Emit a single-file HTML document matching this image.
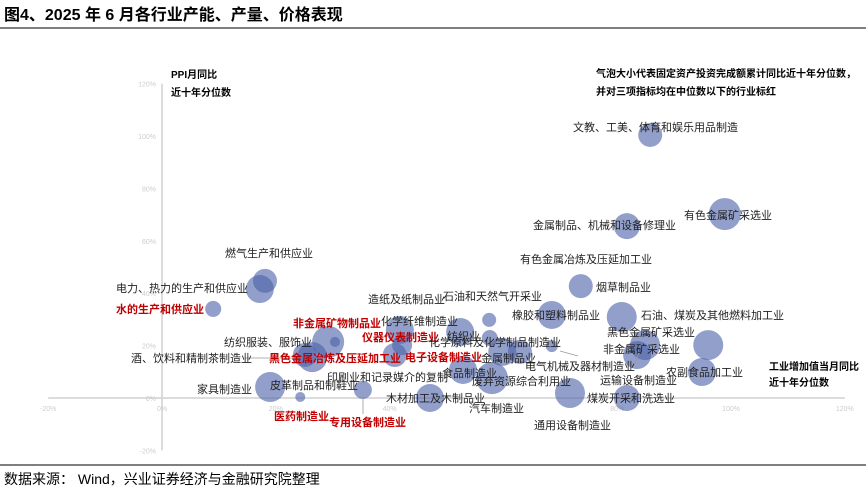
<!DOCTYPE html>
<html><head><meta charset="utf-8"><style>
body{margin:0;background:#fff;width:866px;height:488px;overflow:hidden;font-family:"Liberation Sans","Noto Sans CJK SC",sans-serif}
svg{position:absolute;left:0;top:0}
text{font-family:"Liberation Sans","Noto Sans CJK SC",sans-serif}
</style></head><body>
<svg width="866" height="488">
<text x="4" y="20" font-size="16" font-weight="bold" fill="#000">图4、2025 年 6 月各行业产能、产量、价格表现</text>
<line x1="0" y1="28" x2="866" y2="28" stroke="#333" stroke-width="1.2"/>
<line x1="0" y1="465" x2="866" y2="465" stroke="#333" stroke-width="1.2"/>
<text x="4" y="484" font-size="14" fill="#000">数据来源：  Wind，兴业证券经济与金融研究院整理</text>
<g id="axes"></g>
<g id="bubbles"></g>
<g id="labels" font-size="11" fill="#222"></g>
</svg>
<script>
const names=["文教","有色矿","金属机械","燃气","电力","水","烟草","橡胶","石油加工","油气开采","化纤","非金属矿物","非金属矿物2","纺织","纺织服装","黑色冶炼","电子","仪器","化学原料2","化学原料","金属制品","电气机械","黑色矿","非金属矿采","农副","农副2","食品","废弃","皮革","医药","印刷","木材","煤炭开采","运输"];
const xVals=[85.8,98.9,81.7,18.1,17.2,9.0,73.6,68.5,80.8,57.5,41.8,29.2,30.4,52.4,25.1,26.4,40.9,42.2,57.6,59.8,62.9,68.5,84.9,83.5,96.0,94.9,52.9,58.0,19.0,24.3,35.3,47.1,71.7,81.7];
const yVals=[100.4,70.2,65.6,44.7,41.6,34.0,42.7,31.7,30.9,29.8,26.0,21.4,21.4,25.2,16.4,15.6,16.4,20.2,22.9,17.6,17.6,19.8,20.2,16.4,20.2,9.9,10.7,7.6,4.2,0.4,3.1,0,1.9,0];
const sizes=[12,16,13,12,14,8,12,14,15,7,14,16,5,14,12,15,12,10,8,14,12,6,15,14,15,14,14,16,15,5,9,14,15,13];
const xTicks=[-20,0,20,40,60,80,100,120];
const yTicks=[-20,0,20,40,60,80,100,120];
const NS="http://www.w3.org/2000/svg";
const X=v=>162+5.69*v, Y=v=>398-2.62*v;
const ax=document.getElementById('axes');
function mk(t,a,p){const e=document.createElementNS(NS,t);for(const k in a)e.setAttribute(k,a[k]);p.appendChild(e);return e;}
let l=mk('line',{x1:X(-20),y1:Y(0),x2:X(120),y2:Y(0),stroke:'#d0d0d0','stroke-width':1.5},ax);


l=mk('line',{x1:X(0),y1:Y(120),x2:X(0),y2:Y(-20),stroke:'#d0d0d0','stroke-width':1.5},ax);


xTicks.forEach(v=>{const t=mk('text',{x:X(v),y:Y(0)+13,'font-size':7,fill:'#ccc','text-anchor':'middle'},ax);t.textContent=v+'%';

});
yTicks.forEach(v=>{const t=mk('text',{x:X(0)-6,y:Y(v)+3,'font-size':7,fill:'#ccc','text-anchor':'end'},ax);t.textContent=v+'%';

});
const bg=document.getElementById('bubbles');
xVals.forEach((v,i)=>{const c=mk('circle',{cx:X(v),cy:Y(yVals[i]),r:sizes[i],fill:'#4d64aa','fill-opacity':0.62},bg);

});
const lines=[[245,358,298,358],[560,351,578,356],[363,396,363,414],[640,350,633,368]];
lines.forEach(p=>{const e=mk('line',{x1:p[0],y1:p[1],x2:p[2],y2:p[3],stroke:'#999','stroke-width':0.8},bg);

});
const labels=[
["文教、工美、体育和娱乐用品制造",573,131,0],["有色金属矿采选业",684,219,0],["金属制品、机械和设备修理业",533,229,0],
["燃气生产和供应业",225,257,0],["电力、热力的生产和供应业",116,292,0],["水的生产和供应业",116,313,1],
["有色金属冶炼及压延加工业",520,263,0],["烟草制品业",596,291,0],["造纸及纸制品业",368,303,0],
["石油和天然气开采业",443,300,0],["橡胶和塑料制品业",512,319,0],["石油、煤炭及其他燃料加工业",641,319,0],
["非金属矿物制品业",293,327,1],["化学纤维制造业",381,325,0],["黑色金属矿采选业",607,336,0],
["纺织服装、服饰业",224,346,0],["仪器仪表制造业",362,341,1],["纺织业",447,340,0],
["化学原料及化学制品制造业",429,346,0],["非金属矿采选业",603,353,0],["酒、饮料和精制茶制造业",131,362,0],
["黑色金属冶炼及压延加工业",269,362,1],["电子设备制造业",405,361,1],["金属制品业",481,362,0],
["电气机械及器材制造业",525,370,0],["农副食品加工业",666,376,0],["印刷业和记录媒介的复制",327,381,0],
["食品制造业",442,377,0],["废弃资源综合利用业",472,385,0],["运输设备制造业",600,384,0],
["家具制造业",197,393,0],["皮革制品和制鞋业",270,389,0],["木材加工及木制品业",386,402,0],
["煤炭开采和洗选业",587,402,0],["汽车制造业",469,412,0],["医药制造业",274,420,1],
["专用设备制造业",329,426,1],["通用设备制造业",534,429,0]];
const lg=document.getElementById('labels');
labels.forEach(a=>{const t=mk('text',{x:a[1],y:a[2]},lg);t.textContent=a[0];
if(a[3]){t.setAttribute('fill','#c00000');t.setAttribute('font-weight','bold');}

});
const notes=[["PPI月同比",171,78],["近十年分位数",171,96],["气泡大小代表固定资产投资完成额累计同比近十年分位数，",596,77],["并对三项指标均在中位数以下的行业标红",596,95],["工业增加值当月同比",769,370],["近十年分位数",769,386]];
notes.forEach(a=>{const t=mk('text',{x:a[1],y:a[2],'font-weight':'bold','font-size':10,fill:'#000'},lg);t.textContent=a[0];

});
</script>
</body></html>
